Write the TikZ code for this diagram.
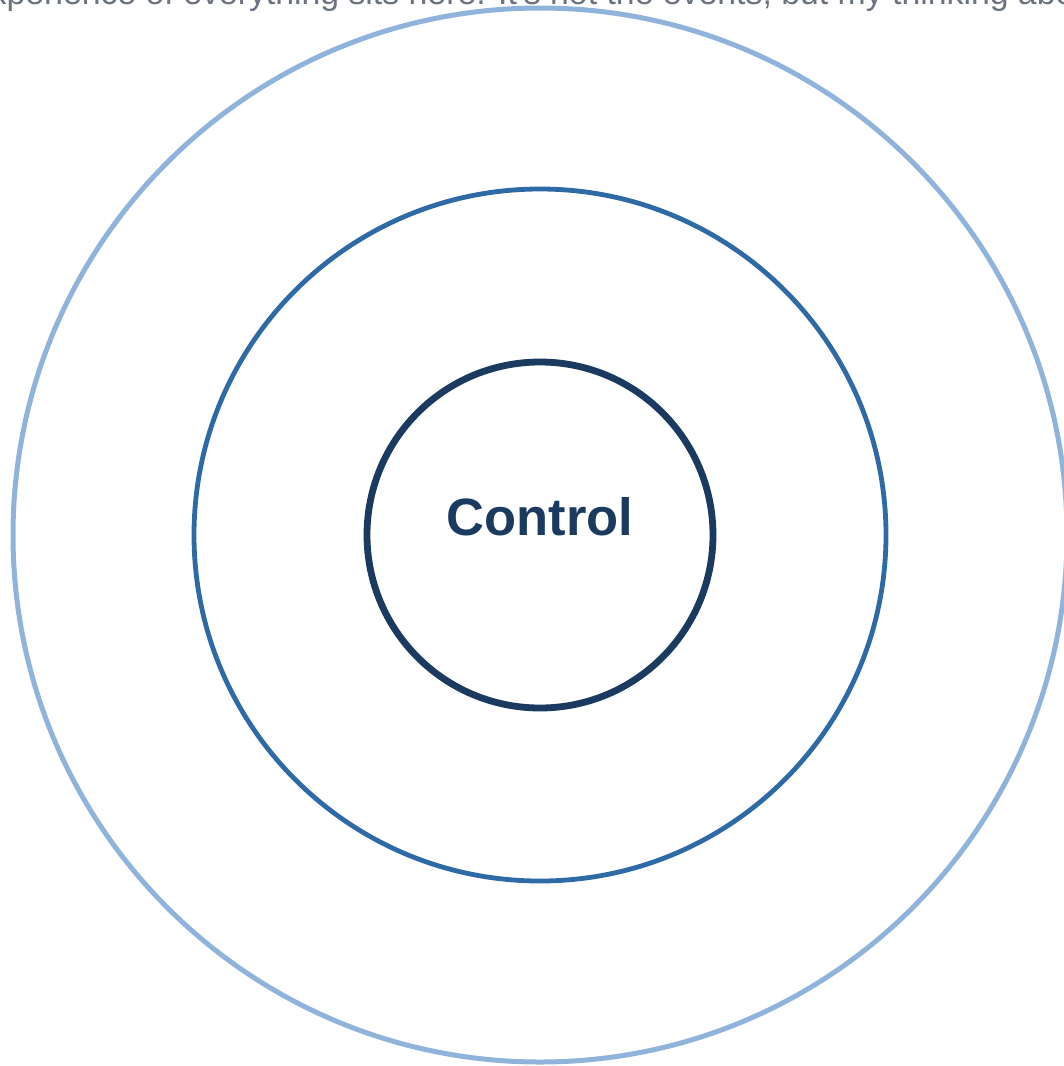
\documentclass[tikz,border=0pt]{standalone}
\usepackage{fontspec}
\setmainfont{Liberation Sans}
\definecolor{outerc}{HTML}{8FB3DB}
\definecolor{midc}{HTML}{2E6AA6}
\definecolor{innerc}{HTML}{1B3A5F}
\definecolor{capc}{HTML}{6B7280}
\begin{document}
\begin{tikzpicture}[x=1pt,y=1pt,
  ring/.style={draw,fill=none,circle,inner sep=0pt},
  lbl/.style={font=\fontsize{52.5}{60}\selectfont\bfseries,text=innerc,inner sep=0pt}]
\useasboundingbox (0,0) rectangle (1064,-1066);
\clip (0,0) rectangle (1064,-1066);
\fill[white] (0,0) rectangle (1064,-1066);
\coordinate (c) at (540,-535);
\node[ring,draw=outerc,line width=5pt,minimum size=1054pt] (outer) at (c) {};
\node[ring,draw=midc,line width=4.8pt,minimum size=692pt] (middle) at (c) {};
\node[ring,draw=innerc,line width=6.8pt,minimum size=346pt] (inner) at (c) {};
\node[lbl,anchor=base] (ctl) at (540,-535) {Control};
\node[anchor=base,inner sep=0pt,text=capc,font=\fontsize{33.8}{40}\selectfont] (cap) at (550,-4) {The experience of everything sits here. It's not the events, but my thinking about them.};
\end{tikzpicture}
\end{document}
